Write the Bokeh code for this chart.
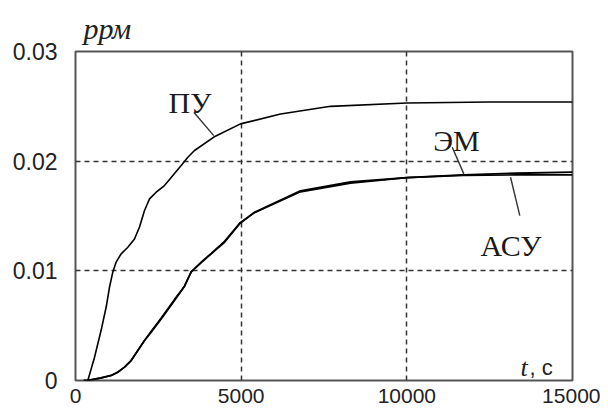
from bokeh.plotting import figure
from bokeh.models import Range1d, FixedTicker, CustomJSTickFormatter, Label
from bokeh.embed import file_html
from bokeh.resources import INLINE

# --- data ---
x_ticks = [0, 5000, 10000, 15000]
y_ticks = [0, 0.01, 0.02, 0.03]
x_grid = [5000, 10000]
y_grid = [0.01, 0.02]

pu_t = [372, 573, 775, 926, 1026, 1127, 1227, 1378, 1579, 1781, 1932, 2083, 2234,
        2435, 2686, 2938, 3190, 3391, 3592, 4175, 4980, 6190, 7700, 10000, 12500, 15000]
pu_v = [0.0, 0.0021, 0.0046, 0.0067, 0.0085, 0.0099, 0.0108, 0.01155, 0.01215,
        0.0129, 0.0140, 0.0155, 0.01656, 0.01717, 0.01778, 0.01869, 0.0196, 0.02036,
        0.02097, 0.0222, 0.0234, 0.0243, 0.0250, 0.0253, 0.0254, 0.0254]

em_t = [250, 372, 775, 1077, 1277, 1479, 1680, 1881, 2083, 2284, 2586, 2988, 3290,
        3492, 3794, 4096, 4497, 4970, 5403, 6790, 8300, 10000, 11700, 13300, 15000]
em_v = [0.0, 0.0, 0.00024, 0.00046, 0.00076, 0.00122, 0.00182, 0.00273, 0.00365,
        0.0044, 0.00562, 0.0073, 0.0086, 0.0099, 0.01075, 0.01155, 0.01261, 0.01434,
        0.01534, 0.0173, 0.0181, 0.0185, 0.01875, 0.0189, 0.0190]

asu_t = [250, 372, 775, 1077, 1277, 1479, 1680, 1881, 2083, 2284, 2586, 2988, 3290,
         3492, 3794, 4096, 4497, 4970, 5403, 6790, 8300, 10000, 11700, 13300, 15000]
asu_v = [0.0, 0.0, 0.00024, 0.00046, 0.00076, 0.00122, 0.00182, 0.00273, 0.00365,
         0.0045, 0.0057, 0.0074, 0.0086, 0.0099, 0.0108, 0.0116, 0.0127, 0.0144,
         0.0153, 0.0172, 0.0180, 0.0185, 0.0187, 0.01875, 0.01875]

# leader lines (data coords)
lead_x0 = [3571, 11370, 13130]
lead_y0 = [0.02446, 0.02127, 0.01853]
lead_x1 = [4173, 11720, 13410]
lead_y1 = [0.02233, 0.01884, 0.01504]

names = ["ПУ", "ЭМ", "АСУ"]
name_x = [3456, 11500, 13145]
name_y = [0.02534, 0.02188, 0.01231]

p = figure(width=600, height=406,
           x_range=Range1d(0, 15000), y_range=Range1d(0, 0.03),
           output_backend="svg", toolbar_location=None,
           min_border_left=75, min_border_right=28,
           min_border_top=51, min_border_bottom=26)

p.background_fill_color = "white"
p.border_fill_color = "white"
p.outline_line_color = "#555555"
p.outline_line_width = 2

p.xaxis.ticker = FixedTicker(ticks=x_ticks)
p.yaxis.ticker = FixedTicker(ticks=y_ticks)
p.yaxis.formatter = CustomJSTickFormatter(code="return tick == 0 ? '0' : tick.toFixed(2);")
p.axis.axis_line_color = None
p.axis.major_tick_line_color = None
p.axis.minor_tick_line_color = None
p.axis.major_label_text_font = "Liberation Sans"
p.axis.major_label_text_color = "#222222"
p.yaxis.major_label_text_font_size = "23px"
p.xaxis.major_label_text_font_size = "21px"
p.xaxis.major_label_standoff = 2
p.yaxis.major_label_standoff = 12

p.xgrid.ticker = FixedTicker(ticks=x_grid)
p.ygrid.ticker = FixedTicker(ticks=y_grid)
p.grid.grid_line_color = "#333333"
p.grid.grid_line_width = 1.5
p.grid.grid_line_dash = "5 4"

p.title.text = "ррм"
p.title.text_font = "Liberation Serif"
p.title.text_font_style = "italic"
p.title.text_font_size = "30px"
p.title.text_color = "#222222"
p.title.align = "left"
p.title.offset = 8
p.title.standoff = 13

p.line(pu_t, pu_v, line_color="black", line_width=1.6)
p.line(em_t, em_v, line_color="black", line_width=1.8)
p.line(asu_t, asu_v, line_color="black", line_width=1.6)

p.segment(lead_x0, lead_y0, lead_x1, lead_y1, line_color="#333333", line_width=1.4)

for n, x, y in zip(names, name_x, name_y):
    p.add_layout(Label(x=x, y=y, text=n, text_align="center", text_baseline="alphabetic",
                       text_font="Liberation Serif", text_font_size="30px",
                       text_color="#1a1a1a"))

p.add_layout(Label(x=13432, y=0.00119, text="t", text_align="left", text_baseline="alphabetic",
                   text_font="Liberation Serif", text_font_style="italic",
                   text_font_size="26px", text_color="#222222"))
p.add_layout(Label(x=13703, y=0.00119, text=", с", text_align="left", text_baseline="alphabetic",
                   text_font="Liberation Sans", text_font_size="22px", text_color="#222222"))

open("out.html", "w").write(file_html(p, INLINE))
